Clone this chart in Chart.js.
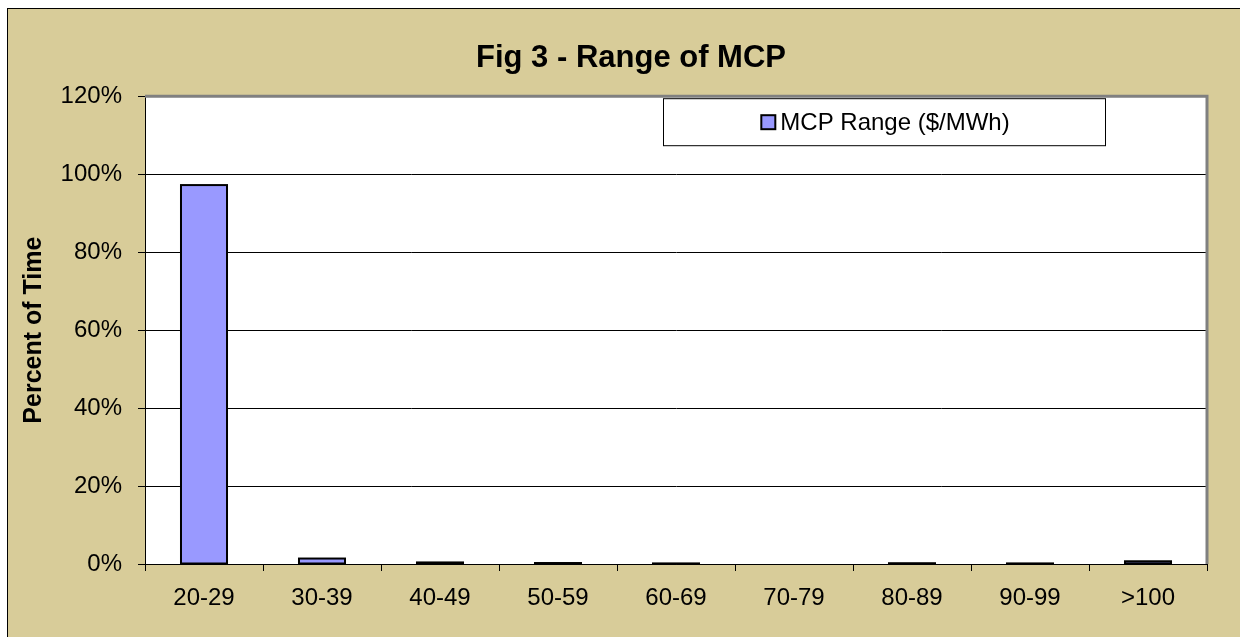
<!DOCTYPE html>
<html><head><meta charset="utf-8">
<script src="https://cdn.jsdelivr.net/npm/chart.js@4"></script>
<style>
html,body{margin:0;padding:0;background:#fff;width:1240px;height:637px;overflow:hidden}
#frame{position:absolute;left:7px;top:8px;width:1232px;height:628px;border-top:1px solid #000;border-left:1px solid #000;background:#D8CC99;}
canvas{display:block}
</style></head><body>
<div id="frame"><canvas id="c" width="1232" height="628"></canvas></div>
<script>
const categories = ['20-29','30-39','40-49','50-59','60-69','70-79','80-89','90-99','>100'];
const percentOfTime = [97.2, 1.4, 0.4, 0.25, 0.15, 0, 0.2, 0.15, 0.7];
const seriesLabel = 'MCP Range ($/MWh)';
const yTickValues = [0, 20, 40, 60, 80, 100, 120];
const chartTitle = 'Fig 3 - Range of MCP';
const yAxisTitle = 'Percent of Time';

const FONT = "'Liberation Sans', Arial, sans-serif";
Chart.defaults.font.family = FONT;
Chart.defaults.color = '#000';

const framePlugin = {
  id: 'framePlugin',
  beforeDraw(chart) {
    const {ctx, chartArea: a} = chart;
    ctx.save();
    ctx.fillStyle = '#fff';
    ctx.fillRect(a.left, a.top, a.right - a.left, a.bottom - a.top);
    ctx.restore();
  },
  beforeDatasetsDraw(chart) {
    const {ctx, chartArea: a} = chart;
    ctx.save();
    ctx.strokeStyle = '#808080';
    ctx.lineWidth = 3;
    ctx.beginPath();
    ctx.moveTo(a.left, a.top);
    ctx.lineTo(a.right, a.top);
    ctx.lineTo(a.right, a.bottom);
    ctx.stroke();
    ctx.restore();
  },
  afterDatasetsDraw(chart) {
    // Excel-style outline: 2px black stroke centred on each bar edge
    const {ctx} = chart;
    const meta = chart.getDatasetMeta(0);
    ctx.save();
    ctx.strokeStyle = '#000';
    ctx.lineWidth = 2;
    meta.data.forEach((el, i) => {
      if (!chart.data.datasets[0].data[i]) return;
      const p = el.getProps(['x', 'y', 'base', 'width'], true);
      const left = p.x - p.width / 2;
      const top = Math.min(p.y, p.base);
      const h = Math.abs(p.base - p.y);
      ctx.strokeRect(left, top, p.width, h);
    });
    ctx.restore();
  },
  afterDraw(chart) {
    const {ctx, chartArea: a} = chart;
    const ds = chart.data.datasets[0];
    const bx = a.left + 518.5, by = a.top + 2.5, bw = 442, bh = 47;
    ctx.save();
    ctx.fillStyle = '#fff';
    ctx.fillRect(bx, by, bw, bh);
    ctx.strokeStyle = '#000';
    ctx.lineWidth = 1;
    ctx.strokeRect(bx, by, bw, bh);
    ctx.font = '24px ' + FONT;
    const tw = ctx.measureText(ds.label).width;
    const sw = 14, gap = 5;
    const gx = bx + (bw - (sw + gap + tw)) / 2 + 1;
    const cy = by + bh / 2;
    ctx.fillStyle = ds.backgroundColor;
    ctx.fillRect(gx, cy - sw / 2, sw, sw);
    ctx.lineWidth = 2;
    ctx.strokeRect(gx, cy - sw / 2, sw, sw);
    ctx.fillStyle = '#000';
    ctx.textBaseline = 'middle';
    ctx.textAlign = 'left';
    ctx.fillText(ds.label, gx + sw + gap, cy + 1);
    ctx.restore();
  }
};

new Chart(document.getElementById('c'), {
  type: 'bar',
  data: {
    labels: categories,
    datasets: [{
      label: seriesLabel,
      data: percentOfTime,
      backgroundColor: '#9999FF',
      borderWidth: 0,
      barPercentage: 0.39,
      categoryPercentage: 1
    }]
  },
  options: {
    responsive: false,
    devicePixelRatio: 1,
    animation: false,
    layout: {padding: {left: 14, right: 0, top: 0, bottom: 0}},
    plugins: {
      legend: {display: false},
      tooltip: {enabled: false},
      title: {
        display: true, text: chartTitle, color: '#000',
        font: {family: FONT, size: 31, weight: 'bold', lineHeight: 1.2},
        padding: {top: 31, bottom: 19}
      }
    },
    scales: {
      x: {
        grid: {display: true, drawOnChartArea: false, drawTicks: true, tickLength: 7, color: '#000', offset: true},
        border: {display: true, color: '#000', width: 1},
        ticks: {color: '#000', font: {family: FONT, size: 24}, padding: 13, maxRotation: 0, autoSkip: false},
        afterFit(s) { s.height = 73; }
      },
      y: {
        min: 0, max: 120,
        afterBuildTicks(s) { s.ticks = yTickValues.map(v => ({value: v})); },
        ticks: {color: '#000', font: {family: FONT, size: 24}, padding: 16, callback: v => v + '%'},
        grid: {color: '#000', tickLength: 7},
        border: {display: true, color: '#000', width: 1},
        title: {
          display: true, text: yAxisTitle, color: '#000',
          font: {family: FONT, size: 25, weight: 'bold', lineHeight: 1.0},
          padding: {top: 0, bottom: 0}
        },
        afterFit(s) { s.width = 123; }
      },
      spacer: {
        type: 'linear', position: 'right', min: 0, max: 1,
        grid: {display: false, drawTicks: false},
        border: {display: false},
        ticks: {display: false},
        afterFit(s) { s.width = 33; }
      }
    }
  },
  plugins: [framePlugin]
});
</script>
</body></html>
